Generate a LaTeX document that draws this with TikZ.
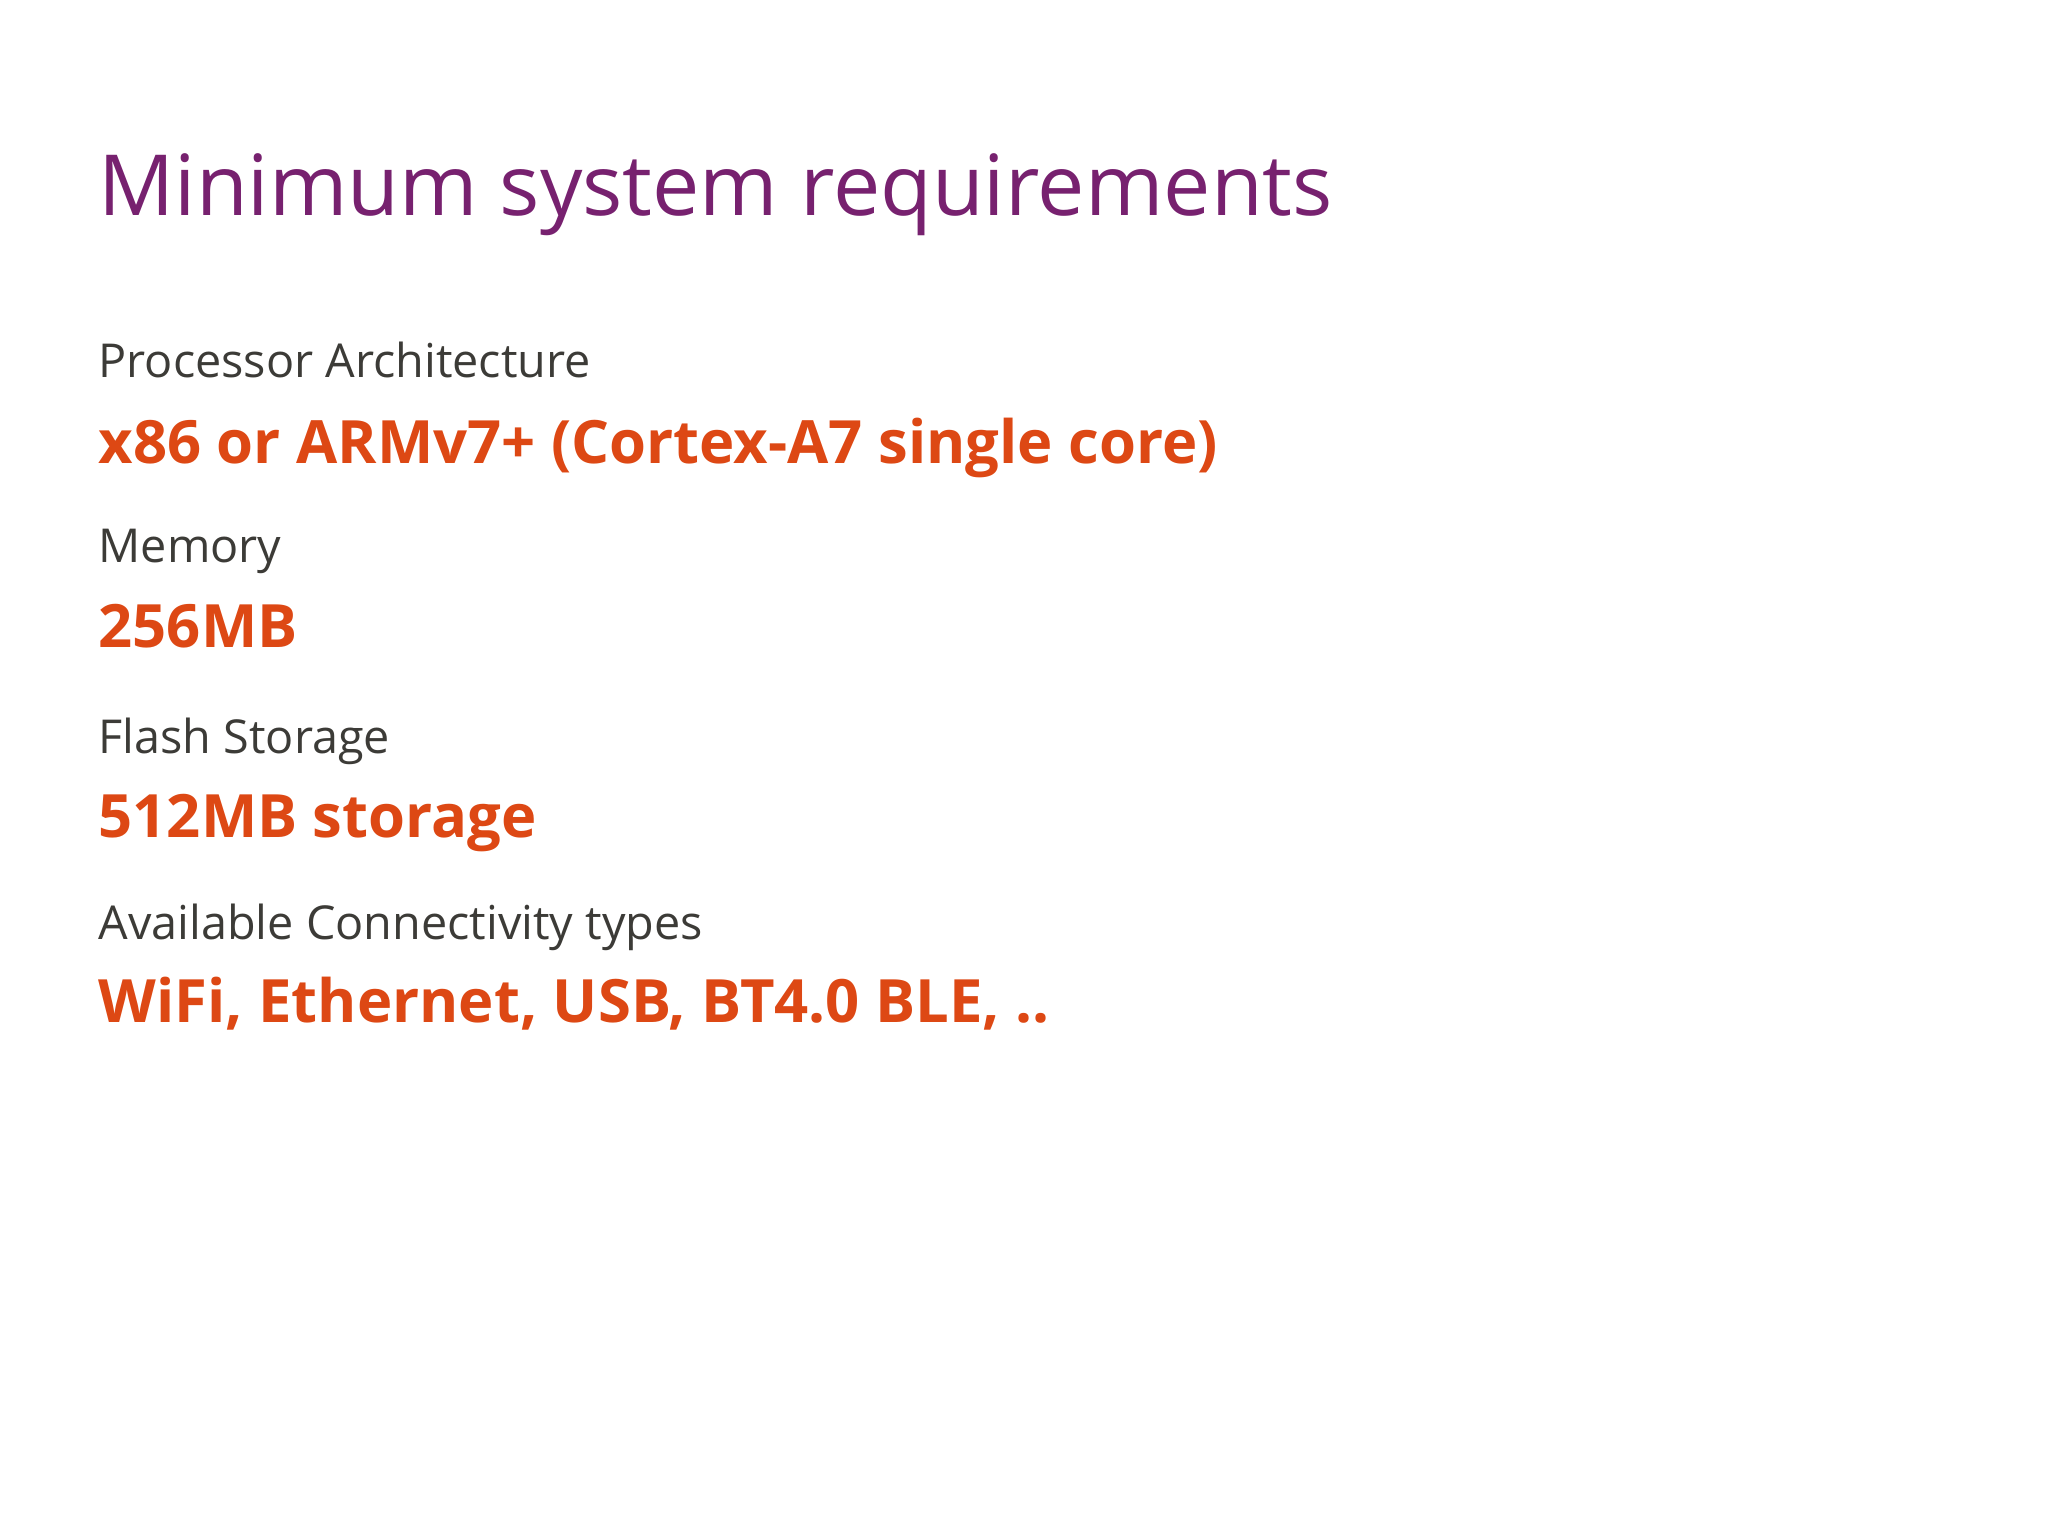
\documentclass[tikz,border=0pt]{standalone}
\usepackage{fontspec}
\setmainfont{Open Sans}
\definecolor{aub}{HTML}{77216F}
\definecolor{org}{HTML}{DD4814}
\definecolor{gry}{HTML}{3C3B37}
\begin{document}
\begin{tikzpicture}[x=0.01306cm,y=-0.01306cm,
  ttl/.style={anchor=base west,inner sep=0,text=aub,font=\fontsize{24}{28}\selectfont},
  lbl/.style={anchor=base west,inner sep=0,text=gry,font=\fontsize{13.3}{16}\selectfont},
  val/.style={anchor=base west,inner sep=0,text=org,font=\fontsize{17}{20}\selectfont\bfseries}]
\useasboundingbox (0,0) rectangle (1568,1176);
\node[ttl] (t) at (75,165) {Minimum system requirements};
\node[lbl] (l1) at (75,289) {Processor Architecture};
\node[val] (v1) at (75,355) {x86 or ARMv7+ (Cortex-A7 single core)};
\node[lbl] (l2) at (75,431) {Memory};
\node[val] (v2) at (75,496) {256MB};
\node[lbl] (l3) at (75,577) {Flash Storage};
\node[val] (v3) at (75,641) {512MB storage};
\node[lbl] (l4) at (75,719) {Available Connectivity types};
\node[val] (v4) at (75,783) {WiFi, Ethernet, USB, BT4.0 BLE, ..};
\end{tikzpicture}
\end{document}
